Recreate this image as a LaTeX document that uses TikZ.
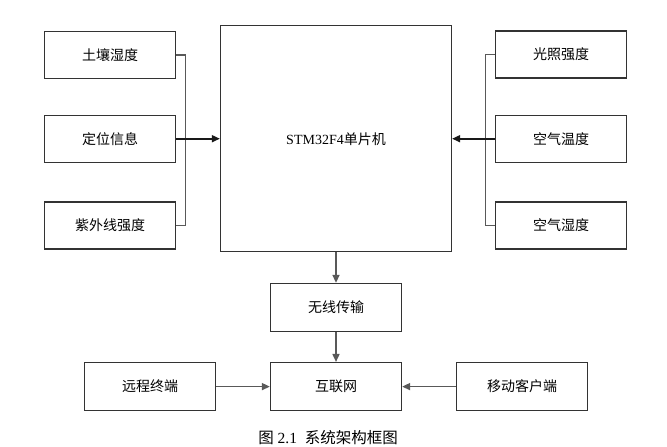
\documentclass[tikz,border=0pt]{standalone}
\usepackage{fontspec}
\setmainfont{Liberation Serif}
\newfontfamily\cjk{Noto Sans CJK SC}
\usetikzlibrary{arrows.meta}
\begin{document}
\begin{tikzpicture}[x=1pt,y=-1pt,
  box/.style={draw=black!80, line width=1.3pt, fill=white, inner sep=0pt,
    minimum width=131pt, minimum height=47pt, font=\cjk\fontsize{14}{15}\selectfont},
  conn/.style={draw=black!65, line width=1.6pt},
  arr/.style={conn, -{Triangle[length=8pt,width=7pt]}}]
\useasboundingbox (0,0) rectangle (667,447);
% left inputs
\node[box] (soil) at (110,55) {土壤湿度};
\node[box] (loc) at (110,138.7) {定位信息};
\node[box] (uv) at (110,225.5) {紫外线强度};
% MCU
\node[box, minimum width=231pt, minimum height=226pt] (mcu) at (336,138.7)
  {{\fontsize{14}{15}\selectfont\rmfamily STM32F4}单片机};
% right inputs
\node[box] (light) at (561,54.5) {光照强度};
\node[box] (temp) at (561,138.7) {空气温度};
\node[box] (hum) at (561,225.5) {空气湿度};
% bottom
\node[box, minimum height=48pt] (wl) at (336,307.5) {无线传输};
\node[box, minimum height=48pt] (net) at (336,386.6) {互联网};
\node[box, minimum height=48pt] (remote) at (150,386.6) {远程终端};
\node[box, minimum height=48pt] (mobile) at (522,386.6) {移动客户端};
% caption
\node[inner sep=0pt, font=\fontsize{15.5}{16}\selectfont] (cap) at (328,438)
  {{\cjk 图} 2.1\ \ {\cjk 系统架构框图}};
% connectors
\draw[conn] (soil.east) -- ++(9.5,0) |- (uv.east);
\draw[arr, draw=black!90] (loc.east) -- (mcu.west);
\draw[conn] (light.west) -- ++(-9.5,0) |- (hum.west);
\draw[arr, draw=black!90] (temp.west) -- (mcu.east);
\draw[arr] (mcu.south) -- (wl.north);
\draw[arr] (wl.south) -- (net.north);
\draw[arr] (remote.east) -- (net.west);
\draw[arr] (mobile.west) -- (net.east);
\end{tikzpicture}
\end{document}
